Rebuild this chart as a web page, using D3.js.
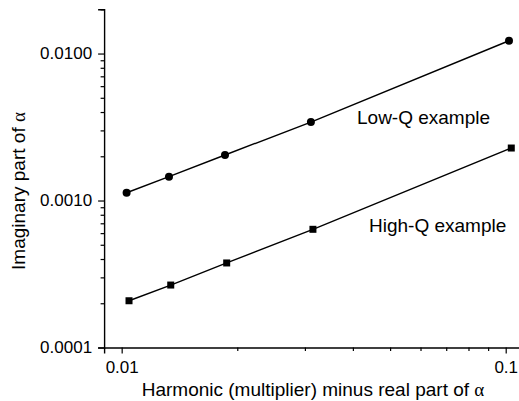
<!DOCTYPE html>
<html>
<head>
<meta charset="utf-8">
<script src="https://cdn.jsdelivr.net/npm/d3@7"></script>
<style>
  body { margin: 0; background: #fff; }
  svg { display: block; font-family: "Liberation Sans", Arial, sans-serif; }
</style>
</head>
<body>
<svg id="chart" width="519" height="401"></svg>
<script>
// --- data ---
var lowQX = [0.0103, 0.01328, 0.01858, 0.0311, 0.102];
var lowQY = [0.00113, 0.001452, 0.00204, 0.00342, 0.01222];
var highQX = [0.01045, 0.01342, 0.01877, 0.03148, 0.1034];
var highQY = [0.000208, 0.000266, 0.000376, 0.000637, 0.002276];

var xMajorTicks = [0.01, 0.1];
var xTickLabels = ["0.01", "0.1"];
var yMajorTicks = [0.0001, 0.001, 0.01];
var yTickLabels = ["0.0001", "0.0010", "0.0100"];

var seriesNames = ["Low-Q example", "High-Q example"];

// --- layout ---
var svg = d3.select("#chart");
var plotLeft = 104.1, plotRight = 521.6, plotTop = 9.3, plotBottom = 347.5;

var x = d3.scaleLog().domain([0.009, 0.11]).range([plotLeft, plotRight]);
var y = d3.scaleLog().domain([0.0001, 0.02]).range([plotBottom, plotTop]);

// minor ticks 1..9 per decade
function logTicks(lo, hi) {
    var out = [];
    for (var e = -5; e <= 0; e++) {
        for (var k = 1; k <= 9; k++) {
            var v = +(k * Math.pow(10, e)).toPrecision(3);
            if (v >= lo - 1e-12 && v <= hi + 1e-12) out.push(v);
        }
    }
    return out;
}
function isMajor(v, majors) {
    return majors.some(function(m) { return Math.abs(v / m - 1) < 1e-6; });
}
function labelFor(v, majors, labels) {
    for (var i = 0; i < majors.length; i++) {
        if (Math.abs(v / majors[i] - 1) < 1e-6) return labels[i];
    }
    return "";
}

var xTicks = logTicks(0.01, 0.1);
var yTicks = logTicks(0.0001, 0.02);

// X axis
var xAxis = d3.axisBottom(x)
    .tickValues(xTicks)
    .tickSizeOuter(0)
    .tickSize(6)
    .tickPadding(7)
    .tickFormat(function(d) { return labelFor(d, xMajorTicks, xTickLabels); });

var gx = svg.append("g")
    .attr("transform", "translate(0," + plotBottom + ")")
    .call(xAxis);

// Y axis
var yAxis = d3.axisLeft(y)
    .tickValues(yTicks)
    .tickSizeOuter(0)
    .tickSize(6)
    .tickPadding(6)
    .tickFormat(function(d) { return labelFor(d, yMajorTicks, yTickLabels); });

var gy = svg.append("g")
    .attr("transform", "translate(" + plotLeft + ",0)")
    .call(yAxis);

[gx, gy].forEach(function(g) {
    g.select(".domain").attr("stroke", "#000").attr("stroke-width", 1.4);
    g.selectAll(".tick line").attr("stroke", "#000").attr("stroke-width", 1.2);
    g.selectAll(".tick text")
        .attr("fill", "#000")
        .style("font-size", "17px")
        .style("font-family", "'Liberation Sans', Arial, sans-serif");
});
gx.selectAll(".tick line").attr("y2", function(d) { return isMajor(d, xMajorTicks) ? 6 : 3.5; });
gy.selectAll(".tick line").attr("x2", function(d) { return isMajor(d, yMajorTicks) ? -6 : -3.5; });

// --- series ---
var line = d3.line()
    .x(function(d) { return x(d[0]); })
    .y(function(d) { return y(d[1]); });

var lowPts = d3.zip(lowQX, lowQY);
var highPts = d3.zip(highQX, highQY);

svg.append("path")
    .datum(lowPts)
    .attr("d", line)
    .attr("fill", "none")
    .attr("stroke", "#000")
    .attr("stroke-width", 1.4);

svg.append("path")
    .datum(highPts)
    .attr("d", line)
    .attr("fill", "none")
    .attr("stroke", "#000")
    .attr("stroke-width", 1.4);

svg.selectAll("circle.low")
    .data(lowPts)
    .enter()
    .append("circle")
    .attr("class", "low")
    .attr("cx", function(d) { return x(d[0]); })
    .attr("cy", function(d) { return y(d[1]); })
    .attr("r", 4)
    .attr("fill", "#000");

var sq = 7;
svg.selectAll("rect.high")
    .data(highPts)
    .enter()
    .append("rect")
    .attr("class", "high")
    .attr("x", function(d) { return x(d[0]) - sq / 2; })
    .attr("y", function(d) { return y(d[1]) - sq / 2; })
    .attr("width", sq)
    .attr("height", sq)
    .attr("fill", "#000");

// --- annotations ---
svg.append("text")
    .attr("x", 357)
    .attr("y", 124)
    .style("font-size", "19px")
    .text(seriesNames[0]);

svg.append("text")
    .attr("x", 369)
    .attr("y", 231.5)
    .style("font-size", "19px")
    .text(seriesNames[1]);

// --- axis titles ---
var xt = svg.append("text")
    .attr("x", 313)
    .attr("y", 396)
    .attr("text-anchor", "middle")
    .style("font-size", "19px");
xt.append("tspan").text("Harmonic (multiplier) minus real part of ");
xt.append("tspan").style("font-family", "'Liberation Serif', 'Times New Roman', serif").text("\u03b1");

var yt = svg.append("text")
    .attr("transform", "translate(25,191) rotate(-90)")
    .attr("text-anchor", "middle")
    .style("font-size", "19px");
yt.append("tspan").text("Imaginary part of ");
yt.append("tspan").style("font-family", "'Liberation Serif', 'Times New Roman', serif").text("\u03b1");
</script>
</body>
</html>
